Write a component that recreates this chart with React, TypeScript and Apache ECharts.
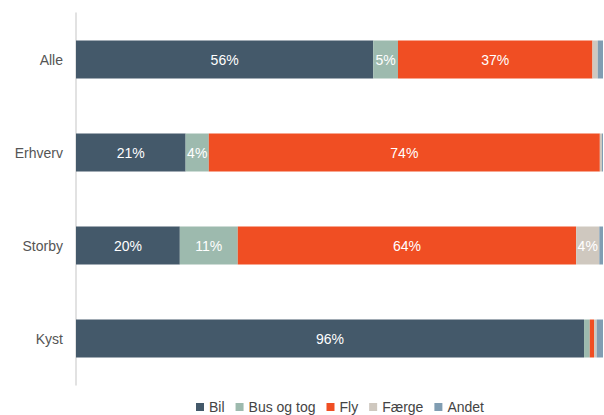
import React, { useEffect, useRef } from "react";
import * as echarts from "echarts";

const categories = ["Alle", "Erhverv", "Storby", "Kyst"];
const seriesNames = ["Bil", "Bus og tog", "Fly", "Færge", "Andet"];
const bil = [56.4, 20.8, 19.7, 96.4];
const busOgTog = [4.7, 4.4, 11.0, 1.1];
const fly = [36.9, 74.2, 64.2, 0.8];
const faerge = [1.0, 0.4, 4.4, 0.5];
const andet = [1.0, 0.2, 0.7, 1.2];
const colors = ["#44596a", "#9dbaae", "#f04e23", "#cfc8bf", "#809db2"];

export default function App() {
  const ref = useRef<HTMLDivElement>(null);
  useEffect(() => {
    if (!ref.current) return;
    const chart = echarts.init(ref.current, undefined, { renderer: "svg" });
    const values = [bil, busOgTog, fly, faerge, andet];
    chart.setOption({
      animation: false,
      textStyle: { fontFamily: "Liberation Sans, Arial, sans-serif" },
      grid: { left: 76, right: 1, top: 13, bottom: 30, containLabel: false },
      legend: {
        data: seriesNames,
        left: 196,
        top: 400,
        padding: 0,
        icon: "rect",
        itemWidth: 8,
        itemHeight: 8,
        itemGap: 11,
        textStyle: { fontSize: 14, color: "#444", fontFamily: "Liberation Sans, Arial, sans-serif" },
      },
      xAxis: {
        type: "value",
        min: 0,
        max: 100,
        show: false,
      },
      yAxis: {
        type: "category",
        data: categories,
        inverse: true,
        axisLine: { show: true, lineStyle: { color: "#d9d9d9", width: 1.5 } },
        axisTick: { show: false },
        axisLabel: { fontSize: 14, color: "#555", margin: 13 },
      },
      series: seriesNames.map((name, i) => ({
        name,
        type: "bar",
        stack: "total",
        barWidth: 38,
        data: values[i],
        itemStyle: { color: colors[i] },
        label: {
          show: true,
          position: "inside",
          color: "#fff",
          fontSize: 14,
          formatter: (p: any) => (p.value >= 3.5 ? Math.round(p.value) + "%" : ""),
        },
      })),
    });
    return () => chart.dispose();
  }, []);
  return <div ref={ref} style={{ width: 604, height: 415, position: "absolute", left: 0, top: 0 }} />;
}
